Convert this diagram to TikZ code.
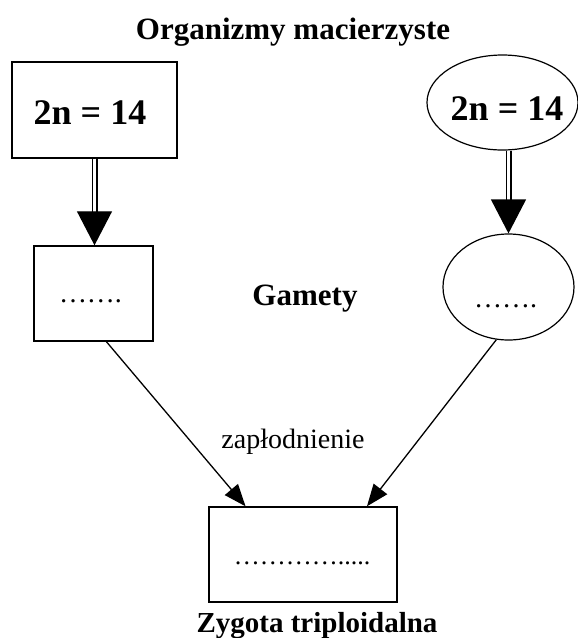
\documentclass[tikz,border=0pt]{standalone}
\usepackage{fontspec}
\setmainfont{Liberation Serif}
\usetikzlibrary{arrows.meta,shapes.geometric,calc}
\tikzset{>=latex}
\tikzset{
  box/.style={draw,line width=1.4pt,inner sep=0pt},
  oval/.style={draw,ellipse,line width=1.2pt,inner sep=0pt},
  big/.style={font=\fontsize{36}{42}\selectfont\bfseries,inner sep=0pt},
  head/.style={font=\fontsize{31}{37}\selectfont\bfseries,inner sep=0pt},
  dots/.style={font=\fontsize{28}{34}\selectfont,inner sep=0pt},
  dbl/.style={double,double distance=3.6pt,line width=1.2pt,-{Triangle[length=34pt,width=35pt]}},
  arr/.style={line width=1.3pt,-{Triangle[length=22pt,width=17pt]}},
}

\begin{document}
\begin{tikzpicture}[x=1pt,y=-1pt]
  \useasboundingbox (0,0) rectangle (578,638);
  \node [head,anchor=base] (title) at (293,39) {Organizmy macierzyste};

  % parents
  \node [box,minimum width=165pt,minimum height=96pt] (p1) at (94.5,110) {};
  \node [big,anchor=base] (p1txt) at (90,124) {2n = 14};
  \node [oval,minimum width=151pt,minimum height=95pt] (p2) at (502.5,102.5) {};
  \node [big,anchor=base] (p2txt) at (507,120) {2n = 14};

  % gametes
  \node [box,minimum width=119pt,minimum height=95pt] (g1) at (93.5,293.5) {};
  \node [dots,anchor=base] (g1txt) at (90.5,302) {…….};
  \node [oval,minimum width=131pt,minimum height=106pt] (g2) at (508.5,287) {};
  \node [dots,anchor=base] (g2txt) at (505.5,307) {…….};
  \node [head,anchor=base] (gam) at (305,305) {Gamety};

  % zygote
  \node [box,minimum width=188pt,minimum height=95pt] (z) at (303,554.5) {};
  \node [font=\fontsize{26}{32}\selectfont,inner sep=0pt,anchor=base] (ztxt) at (302,564) {………….....};
  \node [head,font=\fontsize{29}{35}\selectfont\bfseries,anchor=base] (zlab) at (317,632) {Zygota triploidalna};

  \draw [dbl] (p1.south) -- (p1.south |- g1.north);
  \draw [dbl] (g2.north |- p2.south) -- (g2.north);
  \draw [arr] (g1.-75) -- (z.140);
  \draw [arr] (g2.-103) -- (z.37);
  \node [font=\fontsize{28}{34}\selectfont,inner sep=0pt,anchor=base] (fert) at (293,448) {zapłodnienie};
\end{tikzpicture}
\end{document}
